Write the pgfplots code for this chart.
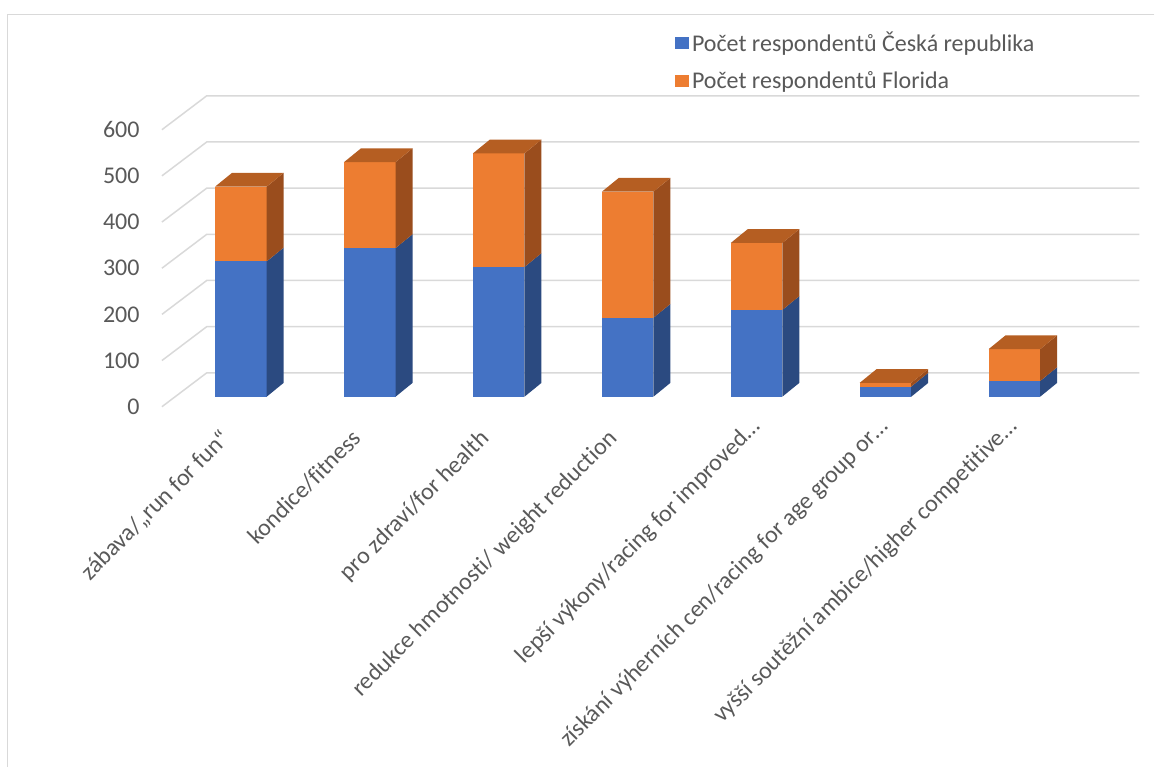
\documentclass[border=0pt]{standalone}
\usepackage{fontspec}
\setmainfont{Carlito}[Ligatures=NoCommon]
\usepackage{pgfplots}
\pgfplotsset{compat=1.18}
\definecolor{czfront}{HTML}{4472C4}
\definecolor{czside}{HTML}{2B4A80}
\definecolor{flfront}{HTML}{ED7D31}
\definecolor{flside}{HTML}{9A4D1D}
\definecolor{fltop}{HTML}{B55E22}
\definecolor{gridc}{HTML}{D9D9D9}
\definecolor{txt}{HTML}{595959}

% one 3D stacked bar: #1 category position, #2 Czech value, #3 Florida value
\newcommand{\barthreed}[3]{%
  \pgfmathsetmacro\xl{#1-0.2}%
  \pgfmathsetmacro\xr{#1+0.2}%
  \pgfmathsetmacro\xlb{#1-0.2+0.132}%
  \pgfmathsetmacro\xrb{#1+0.2+0.132}%
  \pgfmathsetmacro\ya{#2}%
  \pgfmathsetmacro\yt{#2+#3}%
  \pgfmathsetmacro\yab{#2+30}%
  \pgfmathsetmacro\ytb{#2+#3+30}%
  \addplot[forget plot, fill=czfront, draw=none] coordinates {(\xl,0) (\xr,0) (\xr,\ya) (\xl,\ya)} --cycle;
  \addplot[forget plot, fill=czside, draw=none] coordinates {(\xr,0) (\xrb,30) (\xrb,\yab) (\xr,\ya)} --cycle;
  \addplot[forget plot, fill=flfront, draw=none] coordinates {(\xl,\ya) (\xr,\ya) (\xr,\yt) (\xl,\yt)} --cycle;
  \addplot[forget plot, fill=flside, draw=none] coordinates {(\xr,\ya) (\xrb,\yab) (\xrb,\ytb) (\xr,\yt)} --cycle;
  \addplot[forget plot, fill=fltop, draw=none] coordinates {(\xl,\yt) (\xr,\yt) (\xrb,\ytb) (\xlb,\ytb)} --cycle;
}

\begin{document}
\begin{tikzpicture}
\begin{axis}[
  x=64.5pt, y=0.231pt,
  xmin=-0.612, xmax=6.97, ymin=-21.6, ymax=651.5,
  clip=false,
  axis line style={draw=none}, tick style={draw=none},
  major tick length=0pt,
  ytick={0,100,...,600},
  yticklabels={0,100,200,300,400,500,600},
  yticklabel style={anchor=east, inner sep=0pt, yshift=-5pt,
    font=\fontsize{12}{14}\selectfont, text=txt},
  yticklabel shift=11pt,
  xtick={-0.070,0.946,1.938,2.930},
  xticklabels={zábava/„run for fun“, kondice/fitness, pro zdraví/for health, redukce hmotnosti/ weight reduction},
  extra x ticks={4.039,5.031,6.031},
  extra x tick labels={lepší výkony/racing for improved…, získání výherních cen/racing for age group or…, vyšší soutěžní ambice/higher competitive…},
  xticklabel style={rotate=45, anchor=base east, inner sep=0pt,
    font=\fontsize{12}{14}\selectfont, text=txt},
  xticklabel shift=16.5pt,
  extra x tick style={xticklabel style={xshift=4.24pt, yshift=4.24pt}},
  legend style={at={(0.5245,1.218)}, anchor=north west, draw=none, fill=none,
    inner sep=0pt, row sep=5.5pt, font=\fontsize{12}{14}\selectfont,
    text=txt, nodes={inner sep=1.5pt}},
  legend cell align=left,
  legend image code/.code={\fill[#1] (0pt,-2.9pt) rectangle (7pt,3.1pt);},
]
% frame of the chart area and page extent
\path (axis cs:-1.8682,859.3) rectangle (axis cs:7.0853,-800.9);
\draw[gridc, line width=0.75pt] (axis cs:7.0853,827.9) -- (axis cs:-1.810,827.9) -- (axis cs:-1.810,-800.9);

% 3D gridlines (side wall + back wall)
\pgfplotsinvokeforeach{0,100,...,600}{%
  \pgfmathsetmacro\gf{#1-21.6}%
  \pgfmathsetmacro\gb{#1+51.9}%
  \addplot[forget plot, gridc, line width=0.75pt] coordinates {(-0.612,\gf) (-0.264,\gb) (6.97,\gb)};
}

\addlegendimage{fill=czfront, draw=none}
\addlegendentry{Počet respondentů Česká republika}
\addlegendimage{fill=flfront, draw=none}
\addlegendentry{Počet respondentů Florida}

% data: category, Česká republika, Florida
\barthreed{0}{293}{162}
\barthreed{1}{322}{186}
\barthreed{2}{281}{246}
\barthreed{3}{171}{273}
\barthreed{4}{188}{145}
\barthreed{5}{22}{8}
\barthreed{6}{34}{69}
\end{axis}
\end{tikzpicture}
\end{document}
